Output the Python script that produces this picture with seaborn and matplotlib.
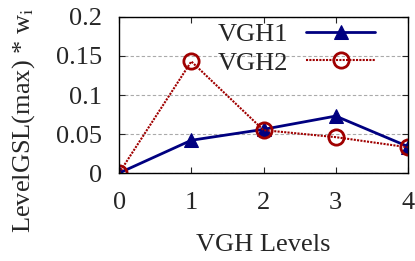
import matplotlib
matplotlib.use("Agg")
import matplotlib.pyplot as plt
import seaborn as sns

levels = [0, 1, 2, 3, 4]
vgh1 = [0.0, 0.042, 0.056, 0.073, 0.034]
vgh2 = [0.0, 0.143, 0.055, 0.046, 0.033]
yticks = [0, 0.05, 0.1, 0.15, 0.2]
yticklabels = ["0", "0.05", "0.1", "0.15", "0.2"]

sns.set_style("ticks")
plt.rcParams["font.family"] = ["Liberation Serif", "DejaVu Serif"]
plt.rcParams["mathtext.fontset"] = "stix"

fig, ax = plt.subplots(figsize=(4.15, 2.61), dpi=100)
sns.lineplot(x=levels, y=vgh1, ax=ax, color="#000080", lw=2, marker="^",
             markersize=10, markeredgecolor="#000080", label="VGH1")
sns.lineplot(x=levels, y=vgh2, ax=ax, color="#a00000", lw=1.5, ls=(0, (1, 0.6)),
             marker="o", markersize=11, markerfacecolor="none",
             markeredgewidth=2, markeredgecolor="#a00000", label="VGH2")

ax.set_xlim(0, 4)
ax.set_ylim(0, 0.2)
ax.set_xticks(levels)
ax.set_yticks(yticks)
ax.set_yticklabels(yticklabels)
ax.yaxis.grid(True, ls=(0, (3, 2)), color="#aaaaaa", lw=0.8)
ax.tick_params(direction="in", top=True, right=True, labelsize=19, length=4)
ax.tick_params(axis="x", pad=14)
ax.tick_params(axis="y", pad=12)
for s in ax.spines.values():
    s.set_linewidth(1.0)
    s.set_color("black")
ax.set_xlabel("VGH Levels", fontsize=19)
ax.set_ylabel("LevelGSL(max) * w$_\\mathrm{i}$", fontsize=19)
ax.xaxis.set_label_coords(0.5, -0.39)
ax.yaxis.set_label_coords(-0.285, 0.34)
ax.legend(loc="upper right", bbox_to_anchor=(0.886, 0.965), frameon=False,
          markerfirst=False, fontsize=19, handlelength=2.6, handletextpad=0.7,
          borderaxespad=0, borderpad=0, labelspacing=0.2)

fig.subplots_adjust(left=0.287, right=0.983, top=0.935, bottom=0.337)
fig.savefig("out.png", dpi=100)
